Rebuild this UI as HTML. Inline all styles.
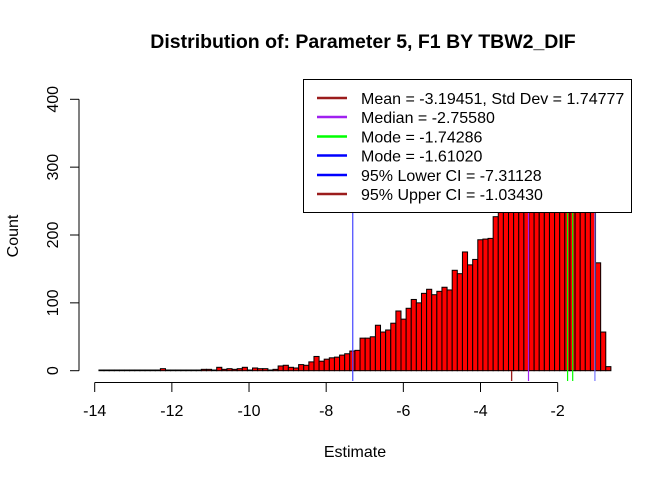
<!DOCTYPE html>
<html><head><meta charset="utf-8"><style>
html,body{margin:0;padding:0;background:#fff}
svg{display:block;font-family:"Liberation Sans",Arial,sans-serif}
</style></head><body>
<svg id="chart" width="672" height="480" viewBox="0 0 672 480">
<text x="363" y="48" text-anchor="middle" font-weight="bold" font-size="19.5">Distribution of: Parameter 5, F1 BY TBW2_DIF</text>
<text x="355" y="457" text-anchor="middle" font-size="16">Estimate</text>
<text x="0" y="0" transform="translate(18,236) rotate(-90)" text-anchor="middle" font-size="16">Count</text>
<g id="under"></g>
<g id="bars"></g>
<g id="lines"></g>
<g id="xaxis"></g>
<g id="yaxis"></g>
<g>
<rect x="303.5" y="79.5" width="328" height="133" fill="#fff" stroke="#000" stroke-width="1"/>
<g font-size="16">
<line x1="317" x2="347" y1="98" y2="98" stroke="#9b1c1c" stroke-width="2.5"/>
<text x="361" y="104">Mean = -3.19451, Std Dev = 1.74777</text>
<line x1="317" x2="347" y1="117" y2="117" stroke="#a020f0" stroke-width="2.5"/>
<text x="361" y="123">Median = -2.75580</text>
<line x1="317" x2="347" y1="136.5" y2="136.5" stroke="#00ff00" stroke-width="2.5"/>
<text x="361" y="142.5">Mode = -1.74286</text>
<line x1="317" x2="347" y1="155.5" y2="155.5" stroke="#0000ff" stroke-width="2.5"/>
<text x="361" y="161.5">Mode = -1.61020</text>
<line x1="317" x2="347" y1="175" y2="175" stroke="#0000ff" stroke-width="2.5"/>
<text x="361" y="181">95% Lower CI = -7.31128</text>
<line x1="317" x2="347" y1="194" y2="194" stroke="#9b1c1c" stroke-width="2.5"/>
<text x="361" y="200">95% Upper CI = -1.03430</text>
</g></g>
</svg>
<script>
const counts = [1,1,1,1,1,1,1,1,1,1,1,1,3,1,1,1,1,1,1,1,2,2,1,5,2,3,2,3,5,1,4,3,3,1,2,7,8,5,4,
9,8,13,21,14,17,19,20,23,25,29,30,48,48,50,67,57,60,70,88,76,92,105,100,114,120,112,117,123,119,148,143,175,156,164,193,194,195,227,
240,250,262,275,285,300,310,320,330,340,350,345,355,360,350,340,330,320,300,
159,57,6];
const binStart = -13.89;
const binWidth = 0.1327;
const xTicks = [-14,-12,-10,-8,-6,-4,-2];
const yTicks = [0,100,200,300,400];
const statValues = [-3.19451,-2.75580,-1.74286,-1.61020,-7.31128,-1.03430];
const statColors = ['#9b1c1c','#a020f0','#00ff00','#00ff00','#4444ff','#7777ff'];

const NS='http://www.w3.org/2000/svg';
const X = v => 94.7 + (v + 14) * 38.58;
const Y = c => 370.7 - c * 0.6785;
function mk(tag, attrs, parent){const e=document.createElementNS(NS,tag);for(const k in attrs)e.setAttribute(k,attrs[k]);parent.appendChild(e);return e;}

const bars=document.getElementById('bars');
counts.forEach((c,i)=>{
  const x0=X(binStart+i*binWidth), x1=X(binStart+(i+1)*binWidth);
  const r=mk('rect',{x:x0,y:Y(c),width:x1-x0,height:Y(0)-Y(c),fill:'#ff0000',stroke:'#000','stroke-width':1},bars);
  
  
});

const under=document.getElementById('under'), lines=document.getElementById('lines');
statValues.forEach((v,i)=>{
  const parent = i===0 ? under : lines;
  const l=mk('line',{x1:X(v),x2:X(v),y1:100,y2:381,stroke:statColors[i],'stroke-width':1.2},parent);
  
  
  if(i===0){
    const t=mk('line',{x1:X(v),x2:X(v),y1:371,y2:381,stroke:statColors[i],'stroke-width':1.2},lines);
    
    
  }
});

const xa=document.getElementById('xaxis');
mk('line',{x1:X(xTicks[0]),x2:X(xTicks[xTicks.length-1]),y1:382.5,y2:382.5,stroke:'#000'},xa);
xTicks.forEach(t=>{
  mk('line',{x1:X(t),x2:X(t),y1:382.5,y2:392,stroke:'#000'},xa);
  const tx=mk('text',{x:X(t),y:416,'text-anchor':'middle','font-size':16},xa);
  tx.textContent=t;
  
  
});
const ya=document.getElementById('yaxis');
mk('line',{x1:79,x2:79,y1:Y(yTicks[0]),y2:Y(yTicks[yTicks.length-1]),stroke:'#000'},ya);
yTicks.forEach(t=>{
  mk('line',{x1:70,x2:79,y1:Y(t),y2:Y(t),stroke:'#000'},ya);
  const tx=mk('text',{x:0,y:0,transform:`translate(58,${Y(t)}) rotate(-90)`,'text-anchor':'middle','font-size':16},ya);
  tx.textContent=t;
  
  
});
</script>
</body></html>
